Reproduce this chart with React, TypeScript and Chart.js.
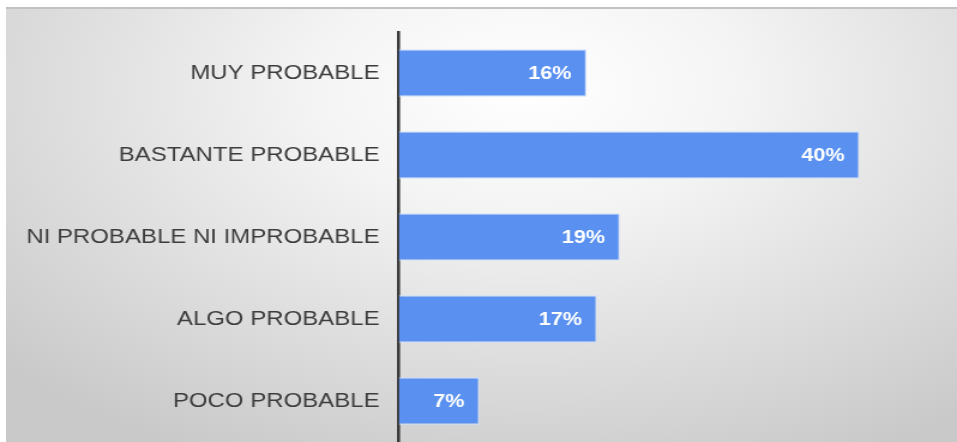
import React, { useEffect, useRef } from "react";
import { Chart, registerables } from "chart.js";

Chart.register(...registerables);

const categories = [
  "MUY PROBABLE",
  "BASTANTE PROBABLE",
  "NI PROBABLE NI IMPROBABLE",
  "ALGO PROBABLE",
  "POCO PROBABLE",
];
const values = [16.3, 40, 19.2, 17.2, 7.0];
const valueLabels = ["16%", "40%", "19%", "17%", "7%"];

const CANVAS_W = 798;
const CANVAS_H = 442;
const STRETCH = 957 / CANVAS_W;

export default function App() {
  const ref = useRef<HTMLCanvasElement | null>(null);

  useEffect(() => {
    if (!ref.current) return;
    const labelPlugin = {
      id: "barValueLabels",
      afterDatasetsDraw(chart: any) {
        const ctx = chart.ctx;
        const meta = chart.getDatasetMeta(0);
        ctx.save();
        ctx.font = "bold 18px 'Liberation Sans', Arial, sans-serif";
        ctx.fillStyle = "#ffffff";
        ctx.textAlign = "right";
        ctx.textBaseline = "middle";
        meta.data.forEach((el: any, i: number) => {
          ctx.fillText(valueLabels[i], el.x - 12.5, el.y + 1);
        });
        ctx.restore();
      },
    };
    const chart = new Chart(ref.current, {
      type: "bar",
      data: {
        labels: categories,
        datasets: [
          {
            data: values,
            backgroundColor: "#5a91f0",
            borderColor: "#d3e0f7",
            borderWidth: 1.2,
            categoryPercentage: 1,
            barPercentage: 0.58,
          },
        ],
      },
      options: {
        indexAxis: "y",
        responsive: false,
        animation: false,
        devicePixelRatio: 1,
        layout: { padding: { left: 0, top: 32, bottom: 0, right: 35.2 } },
        plugins: { legend: { display: false }, tooltip: { enabled: false } },
        scales: {
          x: {
            display: false,
            min: 0,
            max: 44.8,
          },
          y: {
            z: 1,
            afterFit(scale: any) {
              scale.width = 332.5;
              scale.paddingTop = 0;
              scale.paddingBottom = 0;
            },
            grid: { display: false, drawTicks: false },
            border: { display: true, color: "#3a3a3a", width: 2.6 },
            ticks: {
              padding: 16,
              color: "#3d3d3d",
              font: { family: "'Liberation Sans', Arial, sans-serif", size: 20 },
            },
          },
        },
      },
      plugins: [labelPlugin],
    });
    return () => chart.destroy();
  }, []);

  return (
    <div
      style={{
        position: "fixed",
        left: 0,
        top: 0,
        width: 957,
        height: 442,
        overflow: "hidden",
        background: "#ffffff",
      }}
    >
      <div
        style={{
          position: "absolute",
          left: 6,
          top: 7,
          right: 0,
          bottom: 0,
          borderTop: "2px solid #c2c2c2",
          background:
            "radial-gradient(ellipse 75% 95% at 55% 18%, #ffffff 0%, #f4f4f4 30%, #e0e0e0 62%, #c9c9c9 100%)",
        }}
      />
      <canvas
        ref={ref}
        width={CANVAS_W}
        height={CANVAS_H}
        style={{
          position: "absolute",
          left: 0,
          top: 0,
          transform: `scaleX(${STRETCH})`,
          transformOrigin: "0 0",
        }}
      />
    </div>
  );
}
